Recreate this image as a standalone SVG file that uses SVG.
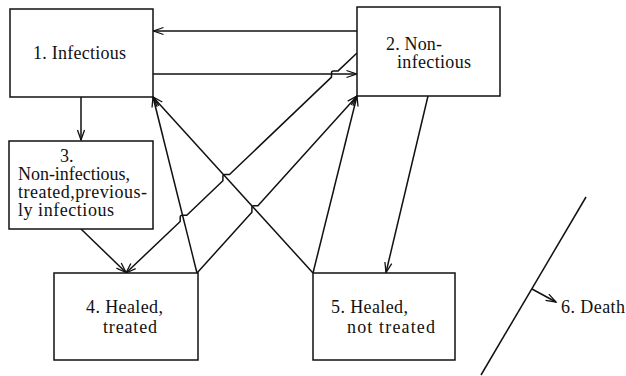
<svg xmlns="http://www.w3.org/2000/svg" width="626" height="376" viewBox="0 0 626 376">
<style>
.box{fill:#fff;stroke:#111;stroke-width:1.5}
.ln{fill:none;stroke:#111;stroke-width:1.5;stroke-linejoin:round}
.arr{marker-end:url(#ah)}
</style>
<defs>
<marker id="ah" viewBox="-12 -6 13 12" refX="0" refY="0" markerWidth="13" markerHeight="12" markerUnits="userSpaceOnUse" orient="auto">
<path d="M-10,-3.5 L0,0 L-10,3.5" fill="none" stroke="#111" stroke-width="1.3"/>
</marker>
</defs>
<rect width="626" height="376" fill="#fff"/>
<g id="connectors">
<path class="ln arr" d="M357,31 H153.5"/>
<path class="ln arr" d="M153,74 H356.5"/>
<path class="ln arr" d="M81,97 V140"/>
<path class="ln arr" d="M81,229 L126,272.5"/>
<path class="ln arr" d="M357,53 L338.1,70.9 H333.5 Q331.5,70.9 331.5,72.9 V77.1 L229.5,174.5 H224.9 Q222.9,174.5 222.9,176.5 V180.7 L186.8,215.3 H182.2 Q180.2,215.3 180.2,217.3 V221.5 L126,273"/>
<path class="ln arr" d="M197,273 L251.9,212.3 V207.7 Q251.9,205.7 253.9,205.7 H257.9 L357,96"/>
<path class="ln arr" d="M197,273 L153,97"/>
<path class="ln arr" d="M313,273 L153,97"/>
<path class="ln arr" d="M313,273 L357,96"/>
<path class="ln arr" d="M428,96 L386,272.5"/>
<path class="ln arr" d="M532,289 L556,302"/>
</g>
<g font-family="Liberation Serif, Times New Roman, serif" font-size="18" fill="#111">
<g id="n1"><rect class="box" x="10" y="9" width="143" height="88"/><text x="33" y="59" textLength="93">1. Infectious</text></g>
<g id="n2"><rect class="box" x="357" y="7" width="143" height="89"/><text x="386" y="50" textLength="56">2. Non-</text><text x="397" y="68" textLength="74">infectious</text></g>
<g id="n3"><rect class="box" x="9" y="141" width="144" height="88"/><text x="60" y="162">3.</text><text x="18" y="180" textLength="112">Non-infectious,</text><text x="18" y="198" textLength="129">treated,previous-</text><text x="18" y="216" textLength="96">ly infectious</text></g>
<g id="n4"><rect class="box" x="54" y="273" width="144" height="87"/><text x="86" y="313" textLength="77">4. Healed,</text><text x="103" y="333" textLength="54">treated</text></g>
<g id="n5"><rect class="box" x="313" y="273" width="142" height="87"/><text x="331" y="313" textLength="77">5. Healed,</text><text x="347" y="333" textLength="88">not treated</text></g>
<g id="n6"><path class="ln" d="M586,197 L481,375"/><text x="561" y="313" textLength="64">6. Death</text></g>
</g>
</svg>
